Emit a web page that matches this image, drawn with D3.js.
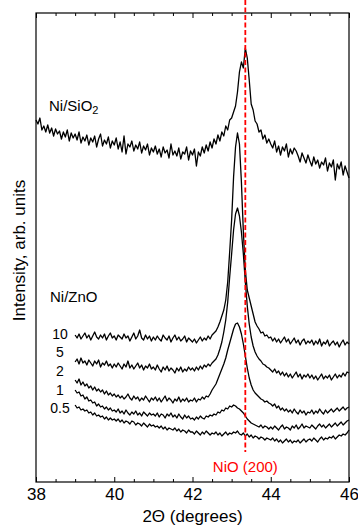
<!DOCTYPE html>
<html>
<head>
<meta charset="utf-8">
<script src="https://cdn.jsdelivr.net/npm/d3@7"></script>
<style>
  body { margin: 0; background: #fff; }
  svg { display: block; font-family: "Liberation Sans", Arial, sans-serif; }
</style>
</head>
<body>
<div id="chart-area"></div>
<script>
// data: intensities sampled every 0.05 deg (arb. units)
var step = 0.05;
var sio2Start = 38;
var znoStart = 39;

var sio2 = [
  362, 358, 364, 352, 356, 350, 357, 349, 354, 346, 353, 348, 351, 343, 350, 345, 352, 341, 349, 344,
  348, 342, 350, 339, 345, 341, 347, 337, 344, 340, 346, 335, 343, 348, 336, 342, 338, 345, 334, 341,
  337, 344, 333, 340, 330, 346, 328, 338, 335, 341, 331, 337, 333, 340, 329, 336, 332, 338, 327, 334,
  330, 336, 328, 333, 325, 335, 329, 332, 324, 338, 327, 331, 326, 334, 323, 330, 328, 335, 322, 331,
  327, 333, 316, 330, 326, 335, 329, 337, 331, 340, 334, 343, 338, 347, 341, 350, 346, 356, 352, 362,
  364, 370, 376, 390, 410, 420, 414, 434, 424, 402, 378, 372, 361, 358, 350, 352, 343, 347, 339, 343,
  338, 334, 341, 330, 336, 327, 335, 331, 338, 325, 333, 328, 334, 331, 326, 320, 329, 324, 319, 327,
  321, 316, 325, 318, 322, 314, 320, 317, 324, 311, 319, 315, 322, 302, 318, 313, 320, 307, 316, 310,
  304
];

var zno10 = [
  147, 144, 148, 143, 146, 149, 144, 147, 142, 146, 150, 145, 143, 147, 144, 148, 142, 146, 149, 144,
  146, 142, 147, 145, 143, 148, 144, 146, 141, 145, 149, 143, 146, 152, 144, 142, 147, 143, 146, 141,
  145, 142, 146, 143, 141, 147, 144, 142, 146, 140, 144, 147, 142, 145, 141, 143, 146, 140, 144, 142,
  140, 143, 139, 142, 145, 141, 144, 142, 146, 143, 147, 149, 151, 155, 160, 166, 172, 182, 200, 230,
  262, 305, 335, 349, 338, 300, 250, 212, 192, 184, 176, 168, 160, 156, 153, 149, 150, 146, 147, 144,
  145, 141, 144, 140, 143, 139, 142, 145, 140, 143, 138, 141, 144, 139, 142, 137, 141, 143, 138, 141,
  139, 142, 137, 141, 138, 143, 136, 140, 138, 142, 136, 139, 141, 137, 140, 135, 139, 142, 137, 140,
  138
];

var zno5 = [
  120, 123, 118, 124, 119, 121, 117, 122, 119, 116, 121, 118, 122, 115, 119, 117, 121, 116, 118, 114,
  118, 115, 119, 116, 113, 118, 115, 121, 114, 117, 113, 116, 119, 114, 117, 112, 116, 114, 118, 113,
  115, 112, 117, 113, 110, 115, 112, 116, 111, 114, 112, 109, 114, 111, 115, 110, 113, 111, 115, 112,
  114, 111, 115, 112, 116, 113, 117, 115, 118, 116, 119, 121, 123, 127, 133, 140, 150, 162, 180, 205,
  228, 252, 268, 274, 266, 250, 228, 200, 176, 158, 145, 136, 130, 126, 123, 121, 118, 117, 115, 114,
  112, 110, 113, 109, 111, 107, 110, 106, 109, 105, 108, 104, 107, 110, 105, 108, 103, 107, 105, 108,
  104, 107, 103, 106, 102, 105, 108, 103, 106, 104, 107, 102, 105, 108, 104, 107, 105, 109, 106, 110,
  109
];

var zno2 = [
  102, 99, 103, 97, 100, 96, 98, 94, 96, 92, 95, 91, 93, 90, 92, 88, 91, 87, 89, 86,
  88, 85, 87, 84, 86, 83, 85, 88, 84, 82, 86, 83, 85, 81, 84, 82, 86, 83, 80, 84,
  82, 85, 81, 84, 80, 83, 86, 81, 84, 82, 79, 83, 81, 85, 80, 83, 81, 84, 80, 82,
  81, 84, 80, 83, 82, 85, 83, 86, 85, 88, 92, 95, 98, 103, 108, 113, 118, 124, 132, 139,
  146, 153, 158, 159, 155, 148, 138, 126, 114, 104, 97, 92, 89, 87, 85, 83, 82, 80, 81, 79,
  78, 76, 78, 74, 76, 72, 74, 71, 73, 70, 72, 69, 73, 70, 68, 72, 69, 71, 67, 70,
  69, 72, 68, 71, 69, 73, 70, 68, 72, 69, 71, 73, 70, 72, 74, 71, 73, 75, 72, 74,
  75
];

var zno1 = [
  92, 89, 90, 86, 87, 83, 85, 81, 82, 79, 80, 76, 78, 75, 76, 73, 75, 72, 74, 71,
  72, 70, 73, 69, 71, 68, 72, 69, 67, 70, 68, 71, 67, 69, 66, 70, 68, 66, 69, 67,
  68, 66, 69, 65, 68, 67, 64, 68, 66, 69, 65, 67, 64, 68, 65, 63, 67, 64, 66, 63,
  64, 62, 65, 63, 66, 64, 63, 66, 65, 67, 66, 68, 67, 70, 69, 72, 71, 74, 73, 76,
  75, 77, 76, 74, 73, 71, 69, 66, 63, 61, 59, 58, 57, 56, 55, 57, 54, 56, 55, 53,
  55, 53, 56, 54, 52, 55, 57, 53, 55, 54, 52, 56, 54, 57, 53, 55, 58, 54, 56, 55,
  54, 57, 55, 53, 56, 58, 55, 57, 54, 56, 58, 55, 57, 59, 56, 58, 60, 57, 59, 61,
  62
];

var zno05 = [
  77, 74, 75, 72, 73, 71, 72, 69, 70, 67, 69, 66, 67, 65, 66, 63, 65, 62, 64, 62,
  63, 61, 63, 60, 62, 59, 61, 60, 58, 61, 60, 57, 59, 58, 56, 59, 57, 55, 58, 56,
  57, 55, 56, 54, 56, 53, 55, 52, 54, 53, 52, 54, 51, 53, 50, 52, 51, 49, 52, 50,
  50, 48, 51, 49, 47, 50, 48, 51, 49, 47, 49, 48, 50, 47, 49, 46, 48, 50, 47, 49,
  48, 50, 49, 51, 48, 47, 49, 46, 48, 45, 47, 44, 46, 45, 43, 45, 44, 42, 44, 43,
  42, 44, 41, 43, 40, 42, 39, 41, 43, 40, 42, 39, 41, 40, 42, 39, 41, 43, 40, 42,
  43, 41, 44, 42, 40, 43, 45, 42, 44, 43, 45, 44, 46, 43, 45, 47, 46, 48, 47, 49,
  52
];

var znoLabels = ["10", "5", "2", "1", "0.5"];
var majorTicks = [38, 40, 42, 44, 46];
var minorTicks = [38.5, 39, 39.5, 40.5, 41, 41.5, 42.5, 43, 43.5, 44.5, 45, 45.5];
var nioPos = 43.35;

// layout
var W = 358, H = 527;
var margin = { left: 36, right: 9, top: 13, bottom: 45 };
var width = W - margin.left - margin.right;
var height = H - margin.top - margin.bottom;
var labelDy = [4, -5, -4, 5, 8];

var svg = d3.select("#chart-area")
  .append("svg")
  .attr("width", W)
  .attr("height", H);

var g = svg.append("g")
  .attr("transform", "translate(" + margin.left + "," + margin.top + ")");

// Scales
var x = d3.scaleLinear().domain([38, 46]).range([0, width]);
var y = d3.scaleLinear().domain([0, 469]).range([height, 0]);

function toPoints(arr, start) {
  return arr.map(function(v, i) {
    return { x: start + i * step, y: v };
  });
}

var line = d3.line()
  .x(function(d) { return x(d.x); })
  .y(function(d) { return y(d.y); });

// Axes (ticks inward, bottom and top)
var xAxisCall = d3.axisBottom(x)
  .tickValues(majorTicks)
  .tickSize(-5)
  .tickPadding(6)
  .tickFormat(d3.format("d"));
var xAxisGroup = g.append("g")
  .attr("transform", "translate(0," + height + ")")
  .call(xAxisCall);

g.append("g")
  .attr("transform", "translate(0," + height + ")")
  .call(d3.axisBottom(x).tickValues(minorTicks).tickSize(-3).tickFormat(""));

g.append("g")
  .call(d3.axisTop(x).tickValues(majorTicks).tickSize(-5).tickFormat(""));
g.append("g")
  .call(d3.axisTop(x).tickValues(minorTicks).tickSize(-3).tickFormat(""));

g.selectAll(".domain").remove();
g.selectAll(".tick line").attr("stroke", "#000").attr("stroke-width", 1);
xAxisGroup.selectAll("text")
  .attr("font-size", "17px")
  .attr("font-family", "Liberation Sans, Arial, sans-serif")
  .attr("fill", "#000");

// frame
g.append("rect")
  .attr("width", width)
  .attr("height", height)
  .attr("fill", "none")
  .attr("stroke", "#000")
  .attr("stroke-width", 1.2);

// curves
var series = [
  toPoints(sio2, sio2Start),
  toPoints(zno10, znoStart),
  toPoints(zno5, znoStart),
  toPoints(zno2, znoStart),
  toPoints(zno1, znoStart),
  toPoints(zno05, znoStart)
];

g.selectAll("path.curve")
  .data(series)
  .enter()
  .append("path")
  .attr("class", "curve")
  .attr("d", line)
  .attr("fill", "none")
  .attr("stroke", "#000")
  .attr("stroke-width", 1.3)
  .attr("stroke-linejoin", "round");

// NiO (200) reference line
g.append("line")
  .attr("x1", x(nioPos))
  .attr("x2", x(nioPos))
  .attr("y1", -margin.top)
  .attr("y2", 439)
  .attr("stroke", "#ff0000")
  .attr("stroke-width", 1.8)
  .attr("stroke-dasharray", "5,2.5");

g.append("text")
  .attr("x", x(nioPos))
  .attr("y", 459)
  .attr("text-anchor", "middle")
  .attr("font-size", "15px")
  .attr("fill", "#ff0000")
  .text("NiO (200)");

// sample labels
var sioLabel = g.append("text")
  .attr("x", 13)
  .attr("y", 98)
  .attr("font-size", "15px")
  .text("Ni/SiO");
sioLabel.append("tspan")
  .attr("font-size", "11px")
  .attr("dy", 3)
  .text("2");

g.append("text")
  .attr("x", 14)
  .attr("y", 289)
  .attr("font-size", "15px")
  .text("Ni/ZnO");

g.selectAll("text.num")
  .data(znoLabels)
  .enter()
  .append("text")
  .attr("class", "num")
  .attr("x", 24)
  .attr("y", function(d, i) { return y(series[i + 1][0].y) + labelDy[i]; })
  .attr("text-anchor", "middle")
  .attr("font-size", "14px")
  .text(function(d) { return d; });

// axis labels
g.append("text")
  .attr("x", width / 2)
  .attr("y", height + 40)
  .attr("text-anchor", "middle")
  .attr("font-size", "17px")
  .text("2\u0398 (degrees)");

g.append("text")
  .attr("x", -(height / 2) - 3)
  .attr("y", -11)
  .attr("transform", "rotate(-90)")
  .attr("text-anchor", "middle")
  .attr("font-size", "17px")
  .text("Intensity, arb. units");
</script>
</body>
</html>
